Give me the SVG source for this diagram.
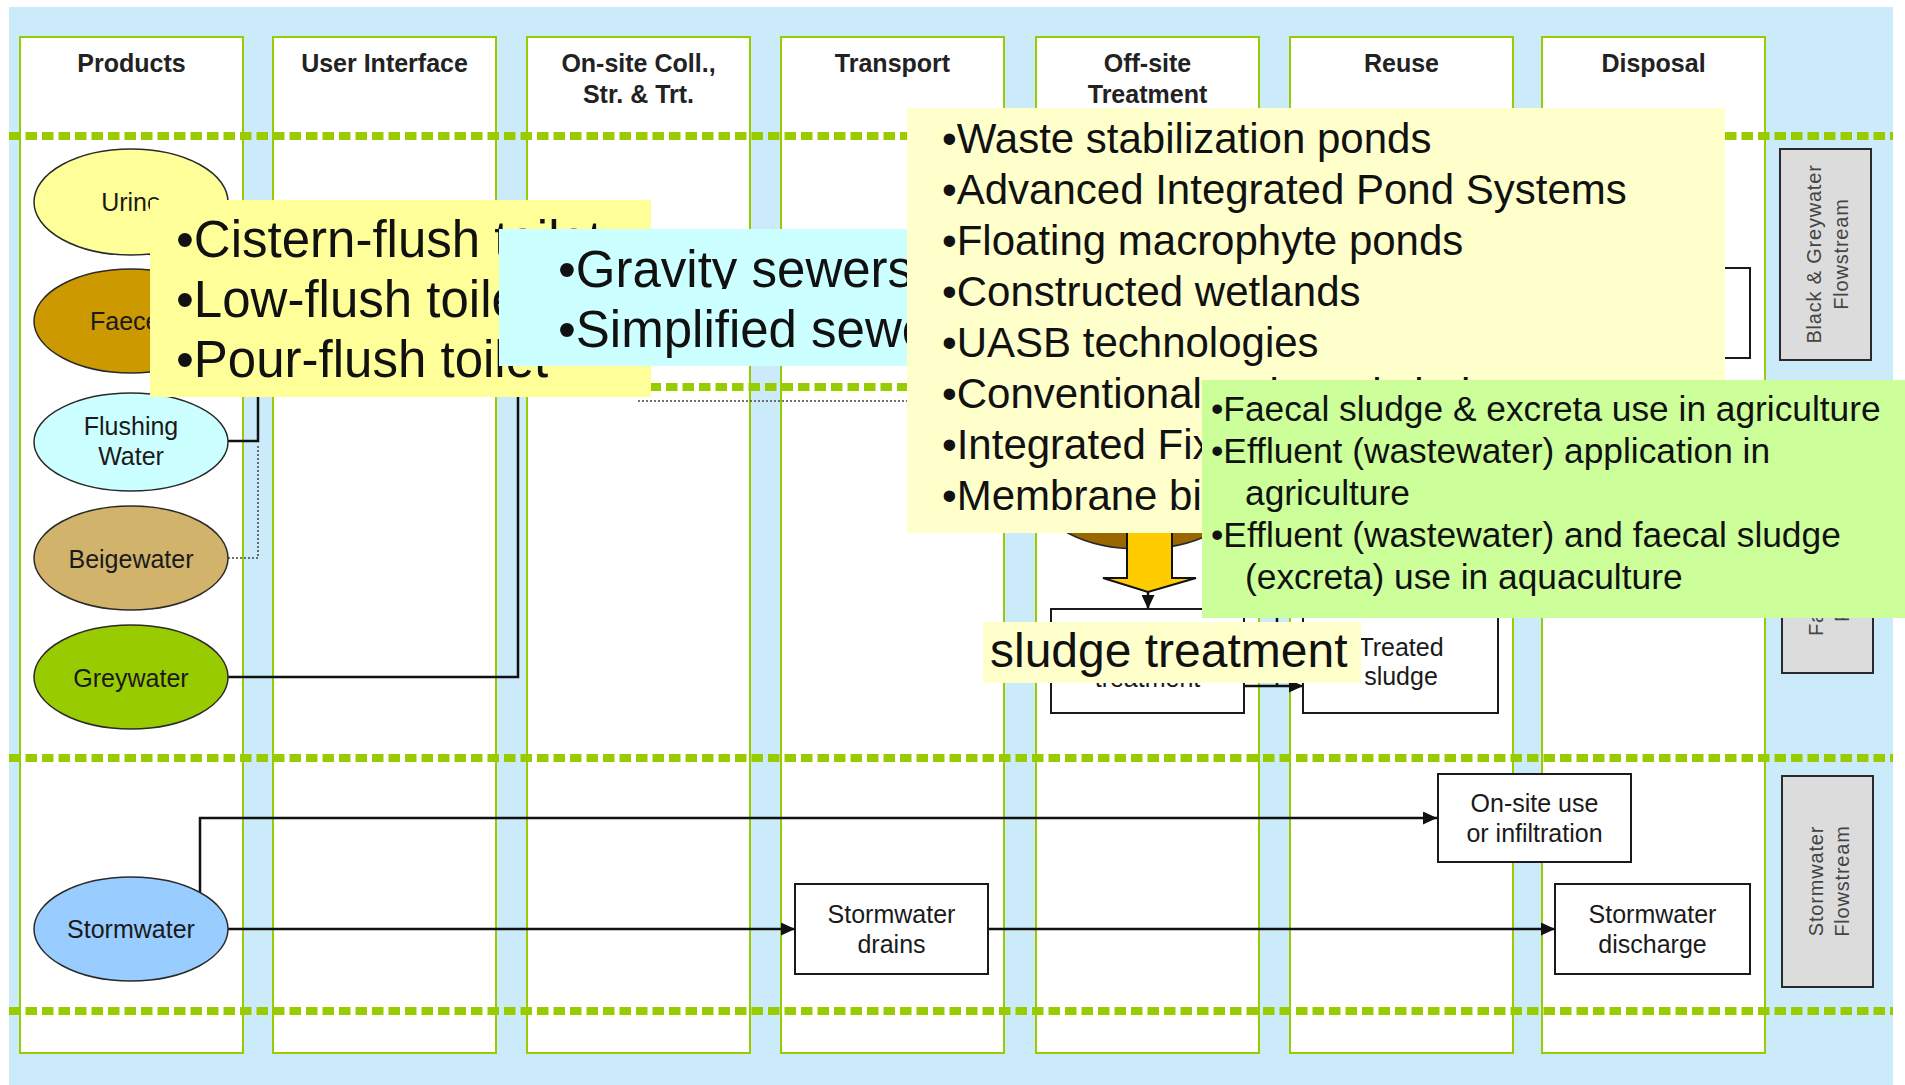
<svg xmlns="http://www.w3.org/2000/svg" width="1905" height="1085" viewBox="0 0 1905 1085">
  <defs>
    <style>
      text { font-family: "Liberation Sans", Arial, sans-serif; fill: #111; }
      .lane { fill: #ffffff; stroke: #99cc00; stroke-width: 2; }
      .hdr { font-size: 25px; font-weight: bold; text-anchor: middle; fill: #222; }
      .band { fill: none; stroke: #99cc00; stroke-width: 8; stroke-dasharray: 11.5 5; }
      .prod { stroke: #2a2a2a; stroke-width: 1.5; }
      .ptxt { font-size: 25px; text-anchor: middle; fill: #1a1a1a; }
      .box { fill: #ffffff; stroke: #1a1a1a; stroke-width: 2; }
      .flow { fill: #dcdcdc; stroke: #2a2a2a; stroke-width: 2; }
      .ftxt { font-size: 20px; letter-spacing: 0.8px; text-anchor: middle; fill: #444; }
      .conn { fill: none; stroke: #111; stroke-width: 2.5; }
      .dot { fill: none; stroke: #444; stroke-width: 1.5; stroke-dasharray: 2 2; }
      .big { font-size: 42px; }
      .mid { font-size: 35.3px; }
      .huge { font-size: 51px; }
    </style>
    <marker id="arrow" markerUnits="userSpaceOnUse" markerWidth="14" markerHeight="13" refX="14" refY="6.5" orient="auto">
      <path d="M0,0 L14,6.5 L0,13 z" fill="#111"/>
    </marker>
  </defs>

  <!-- page background -->
  <rect x="9" y="7" width="1884" height="1078" fill="#cbebfb"/>

  <!-- functional group lanes -->
  <g id="lane-products"><rect class="lane" x="20" y="37" width="223" height="1016"/><text class="hdr" x="131.5" y="72">Products</text></g>
  <g id="lane-user-interface"><rect class="lane" x="273" y="37" width="223" height="1016"/><text class="hdr" x="384.5" y="72">User Interface</text></g>
  <g id="lane-onsite"><rect class="lane" x="527" y="37" width="223" height="1016"/><text class="hdr" x="638.5" y="72">On-site Coll.,</text><text class="hdr" x="638.5" y="103">Str. &amp; Trt.</text></g>
  <g id="lane-transport"><rect class="lane" x="781" y="37" width="223" height="1016"/><text class="hdr" x="892.5" y="72">Transport</text></g>
  <g id="lane-offsite"><rect class="lane" x="1036" y="37" width="223" height="1016"/><text class="hdr" x="1147.5" y="72">Off-site</text><text class="hdr" x="1147.5" y="103">Treatment</text></g>
  <g id="lane-reuse"><rect class="lane" x="1290" y="37" width="223" height="1016"/><text class="hdr" x="1401.5" y="72">Reuse</text></g>
  <g id="lane-disposal"><rect class="lane" x="1542" y="37" width="223" height="1016"/><text class="hdr" x="1653.5" y="72">Disposal</text></g>

  <!-- flowstream band separators -->
  <g id="bands">
    <line class="band" x1="9" y1="136" x2="1893" y2="136"/>
    <line class="band" x1="600" y1="387" x2="1893" y2="387"/>
    <line class="band" x1="9" y1="758" x2="1893" y2="758"/>
    <line class="band" x1="9" y1="1011" x2="1893" y2="1011"/>
  </g>

  <!-- flowstream labels -->
  <g id="flow-black-grey">
    <rect class="flow" x="1780" y="149" width="91" height="211"/>
    <text class="ftxt" transform="translate(1821,254) rotate(-90)">Black  &amp; Greywater</text>
    <text class="ftxt" transform="translate(1848,254) rotate(-90)">Flowstream</text>
  </g>
  <g id="flow-sludge">
    <rect class="flow" x="1782" y="462" width="91" height="211"/>
    <text class="ftxt" style="text-anchor:start" transform="translate(1823,636) rotate(-90)">Faecal Sludge</text>
    <text class="ftxt" style="text-anchor:start" transform="translate(1849,622) rotate(-90)">Flowstream</text>
  </g>
  <g id="flow-storm">
    <rect class="flow" x="1782" y="776" width="91" height="211"/>
    <text class="ftxt" transform="translate(1823,881) rotate(-90)">Stormwater</text>
    <text class="ftxt" transform="translate(1849,881) rotate(-90)">Flowstream</text>
  </g>

  <!-- connectors -->
  <g id="connectors">
    <path class="conn" d="M228,441 H258 V390"/>
    <path class="dot" d="M228,558 H258 V445"/>
    <path class="conn" d="M228,677 H518 V390"/>
    <path class="dot" d="M638,401 H910"/>
    <path class="conn" d="M1148,549 V609" marker-end="url(#arrow)"/>
    <path class="conn" d="M1244,686 H1303" marker-end="url(#arrow)"/>
    <path class="conn" d="M1277,560 V686"/>
    <path class="conn" d="M200,893 V818 H1437" marker-end="url(#arrow)"/>
    <path class="conn" d="M228,929 H795" marker-end="url(#arrow)"/>
    <path class="conn" d="M988,929 H1555" marker-end="url(#arrow)"/>
  </g>

  <!-- products -->
  <g id="urine"><ellipse class="prod" cx="131" cy="202" rx="97" ry="53" fill="#ffff99"/><text class="ptxt" x="131" y="211">Urine</text></g>
  <g id="faeces"><ellipse class="prod" cx="131" cy="321" rx="97" ry="52" fill="#cc9900"/><text class="ptxt" x="131" y="330">Faeces</text></g>
  <g id="flushing-water"><ellipse class="prod" cx="131" cy="442" rx="97" ry="49" fill="#ccffff"/><text class="ptxt" x="131" y="435">Flushing</text><text class="ptxt" x="131" y="465">Water</text></g>
  <g id="beigewater"><ellipse class="prod" cx="131" cy="558" rx="97" ry="52" fill="#d2b36c"/><text class="ptxt" x="131" y="568">Beigewater</text></g>
  <g id="greywater"><ellipse class="prod" cx="131" cy="677" rx="97" ry="52" fill="#99cc00"/><text class="ptxt" x="131" y="687">Greywater</text></g>
  <g id="stormwater"><ellipse class="prod" cx="131" cy="929" rx="97" ry="52" fill="#99ccff"/><text class="ptxt" x="131" y="938">Stormwater</text></g>
  <g id="sludge"><ellipse class="prod" cx="1140" cy="497" rx="100" ry="52" fill="#996600"/></g>

  <!-- technologies -->
  <g id="sludge-treatment"><rect class="box" x="1051" y="609" width="193" height="104"/><text class="ptxt" x="1147.5" y="687">treatment</text></g>
  <g id="treated-sludge"><rect class="box" x="1303" y="609" width="195" height="104"/><text class="ptxt" x="1401" y="656">Treated</text><text class="ptxt" x="1401" y="685">sludge</text></g>
  <g id="surface-discharge"><rect class="box" x="1556" y="268" width="194" height="90"/></g>
  <g id="onsite-use"><rect class="box" x="1438" y="774" width="193" height="88"/><text class="ptxt" x="1534.5" y="812">On-site use</text><text class="ptxt" x="1534.5" y="842">or infiltration</text></g>
  <g id="stormwater-drains"><rect class="box" x="795" y="884" width="193" height="90"/><text class="ptxt" x="891.5" y="923">Stormwater</text><text class="ptxt" x="891.5" y="953">drains</text></g>
  <g id="stormwater-discharge"><rect class="box" x="1555" y="884" width="195" height="90"/><text class="ptxt" x="1652.5" y="923">Stormwater</text><text class="ptxt" x="1652.5" y="953">discharge</text></g>

  <!-- block arrow into sludge treatment -->
  <g id="sludge-arrow">
    <polygon points="1127,532 1172,532 1172,578 1196,578 1148,592 1103,578 1127,578" fill="#ffcc00" stroke="#111" stroke-width="2" stroke-linejoin="miter"/>
  </g>

  <!-- callouts -->
  <g id="callout-user-interface">
    <rect x="150" y="200" width="501" height="197" fill="#ffff99"/>
    <text class="huge" x="176" y="257">•Cistern-flush toilet</text>
    <text class="huge" x="176" y="317">•Low-flush toilet</text>
    <text class="huge" x="176" y="377">•Pour-flush toilet</text>
  </g>
  <g id="callout-transport">
    <rect x="499" y="229" width="410" height="137" fill="#ccffff"/>
    <text class="huge" x="558" y="287">•Gravity sewers</text>
    <rect x="499" y="289" width="410" height="77" fill="#ccffff"/>
    <text class="huge" x="558" y="347">•Simplified sewers</text>
  </g>
  <g id="callout-treatment">
    <rect x="907" y="108" width="818" height="425" fill="#ffffcc"/>
    <text class="big" x="942" y="153">•Waste stabilization ponds</text>
    <text class="big" x="942" y="204">•Advanced Integrated Pond Systems</text>
    <text class="big" x="942" y="255">•Floating macrophyte ponds</text>
    <text class="big" x="942" y="306">•Constructed wetlands</text>
    <text class="big" x="942" y="357">•UASB technologies</text>
    <text class="big" x="942" y="408">•Conventional activated sludge systems</text>
    <text class="big" x="942" y="459">•Integrated Fix</text>
    <text class="big" x="942" y="510">•Membrane bi</text>
  </g>
  <g id="callout-reuse">
    <rect x="1202" y="380" width="703" height="238" fill="#ccff99"/>
    <text class="mid" x="1211" y="421">•Faecal sludge &amp; excreta use in agriculture</text>
    <text class="mid" x="1211" y="463">•Effluent (wastewater) application in</text>
    <text class="mid" x="1245" y="505">agriculture</text>
    <text class="mid" x="1211" y="547">•Effluent (wastewater) and faecal sludge</text>
    <text class="mid" x="1245" y="589">(excreta) use in aquaculture</text>
  </g>
  <g id="callout-sludge">
    <rect x="983" y="622" width="378" height="61" fill="#ffffcc"/>
    <text x="990" y="667" style="font-size:48px">sludge treatment</text>
  </g>
</svg>
